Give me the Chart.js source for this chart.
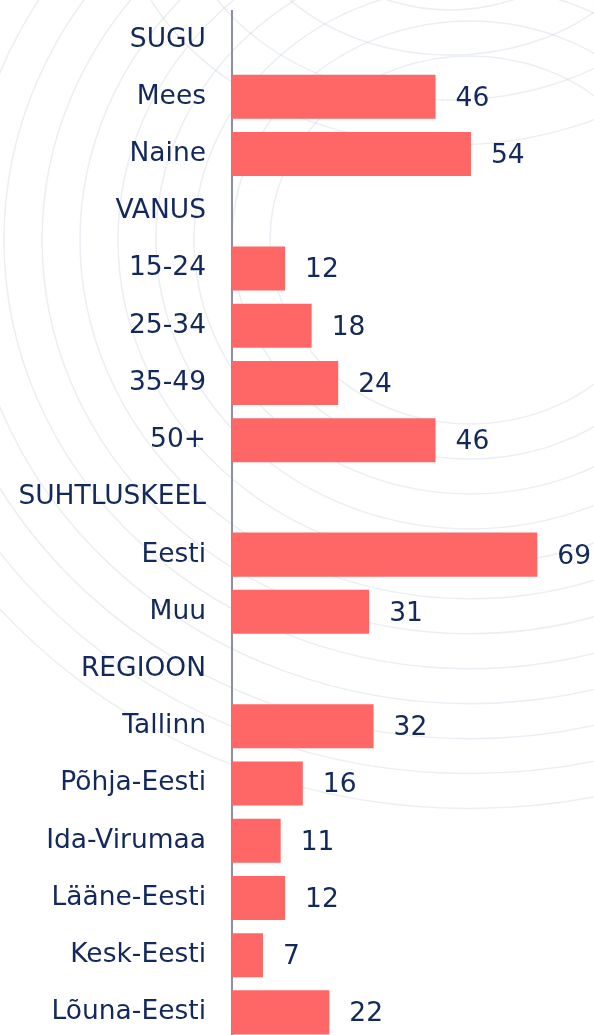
<!DOCTYPE html>
<html>
<head>
<meta charset="utf-8">
<script src="https://cdn.jsdelivr.net/npm/chart.js@4.4.0/dist/chart.umd.min.js"></script>
<style>
  html, body { margin: 0; padding: 0; background: #fff; overflow: hidden; }
  canvas { display: block; }
</style>
</head>
<body>
<canvas id="chart" width="594" height="1041"></canvas>
<script>
const categories = ['SUGU', 'Mees', 'Naine', 'VANUS', '15-24', '25-34', '35-49', '50+',
  'SUHTLUSKEEL', 'Eesti', 'Muu', 'REGIOON', 'Tallinn', 'Põhja-Eesti', 'Ida-Virumaa',
  'Lääne-Eesti', 'Kesk-Eesti', 'Lõuna-Eesti'];
const values = [null, 46, 54, null, 12, 18, 24, 46, null, 69, 31, null, 32, 16, 11, 12, 7, 22];

const navy = '#13295B';
const barColor = '#FF6666';
const fontFamily = '"DejaVu Sans", Verdana, sans-serif';

// faint globe-like background lines
const backdrop = {
  id: 'backdrop',
  beforeDraw(chart) {
    const ctx = chart.ctx;
    ctx.save();
    ctx.strokeStyle = 'rgba(205,213,226,0.4)';
    ctx.lineWidth = 1.5;
    for (let r = 200; r <= 620; r += 38) {
      ctx.beginPath();
      ctx.ellipse(470, 240, r, r * 0.92, 0, 0, Math.PI * 2);
      ctx.stroke();
    }
    for (let r = 120; r <= 260; r += 45) {
      ctx.beginPath();
      ctx.ellipse(450, -110, r * 1.3, r, 0, 0, Math.PI * 2);
      ctx.stroke();
    }
    ctx.restore();
  }
};

// value labels right of the bars
const valueLabels = {
  id: 'valueLabels',
  afterDatasetsDraw(chart) {
    const ctx = chart.ctx;
    const meta = chart.getDatasetMeta(0);
    ctx.save();
    ctx.font = '26.5px ' + fontFamily;
    ctx.fillStyle = navy;
    ctx.textAlign = 'left';
    ctx.textBaseline = 'middle';
    meta.data.forEach((bar, i) => {
      const v = values[i];
      if (v === null) return;
      ctx.fillText(String(v), bar.x + 20, bar.y + 2);
    });
    ctx.restore();
  }
};

new Chart(document.getElementById('chart'), {
  type: 'bar',
  data: {
    labels: categories,
    datasets: [{
      data: values,
      backgroundColor: barColor,
      borderWidth: 0,
      categoryPercentage: 1,
      barPercentage: 0.77
    }]
  },
  options: {
    indexAxis: 'y',
    responsive: false,
    animation: false,
    layout: { padding: { top: 11, right: 8, bottom: 0, left: 0 } },
    plugins: {
      legend: { display: false },
      tooltip: { enabled: false }
    },
    scales: {
      x: {
        display: false,
        min: 0,
        max: 80
      },
      y: {
        grid: { display: false, drawTicks: false },
        border: { display: true, color: '#8B8FA0', width: 2 },
        ticks: {
          color: navy,
          padding: 26,
          font: { family: fontFamily, size: 26.5 }
        },
        afterFit(scale) {
          scale.width = 232;
          scale.paddingTop = 0;
          scale.paddingBottom = 0;
        }
      }
    }
  },
  plugins: [backdrop, valueLabels]
});
</script>
</body>
</html>
